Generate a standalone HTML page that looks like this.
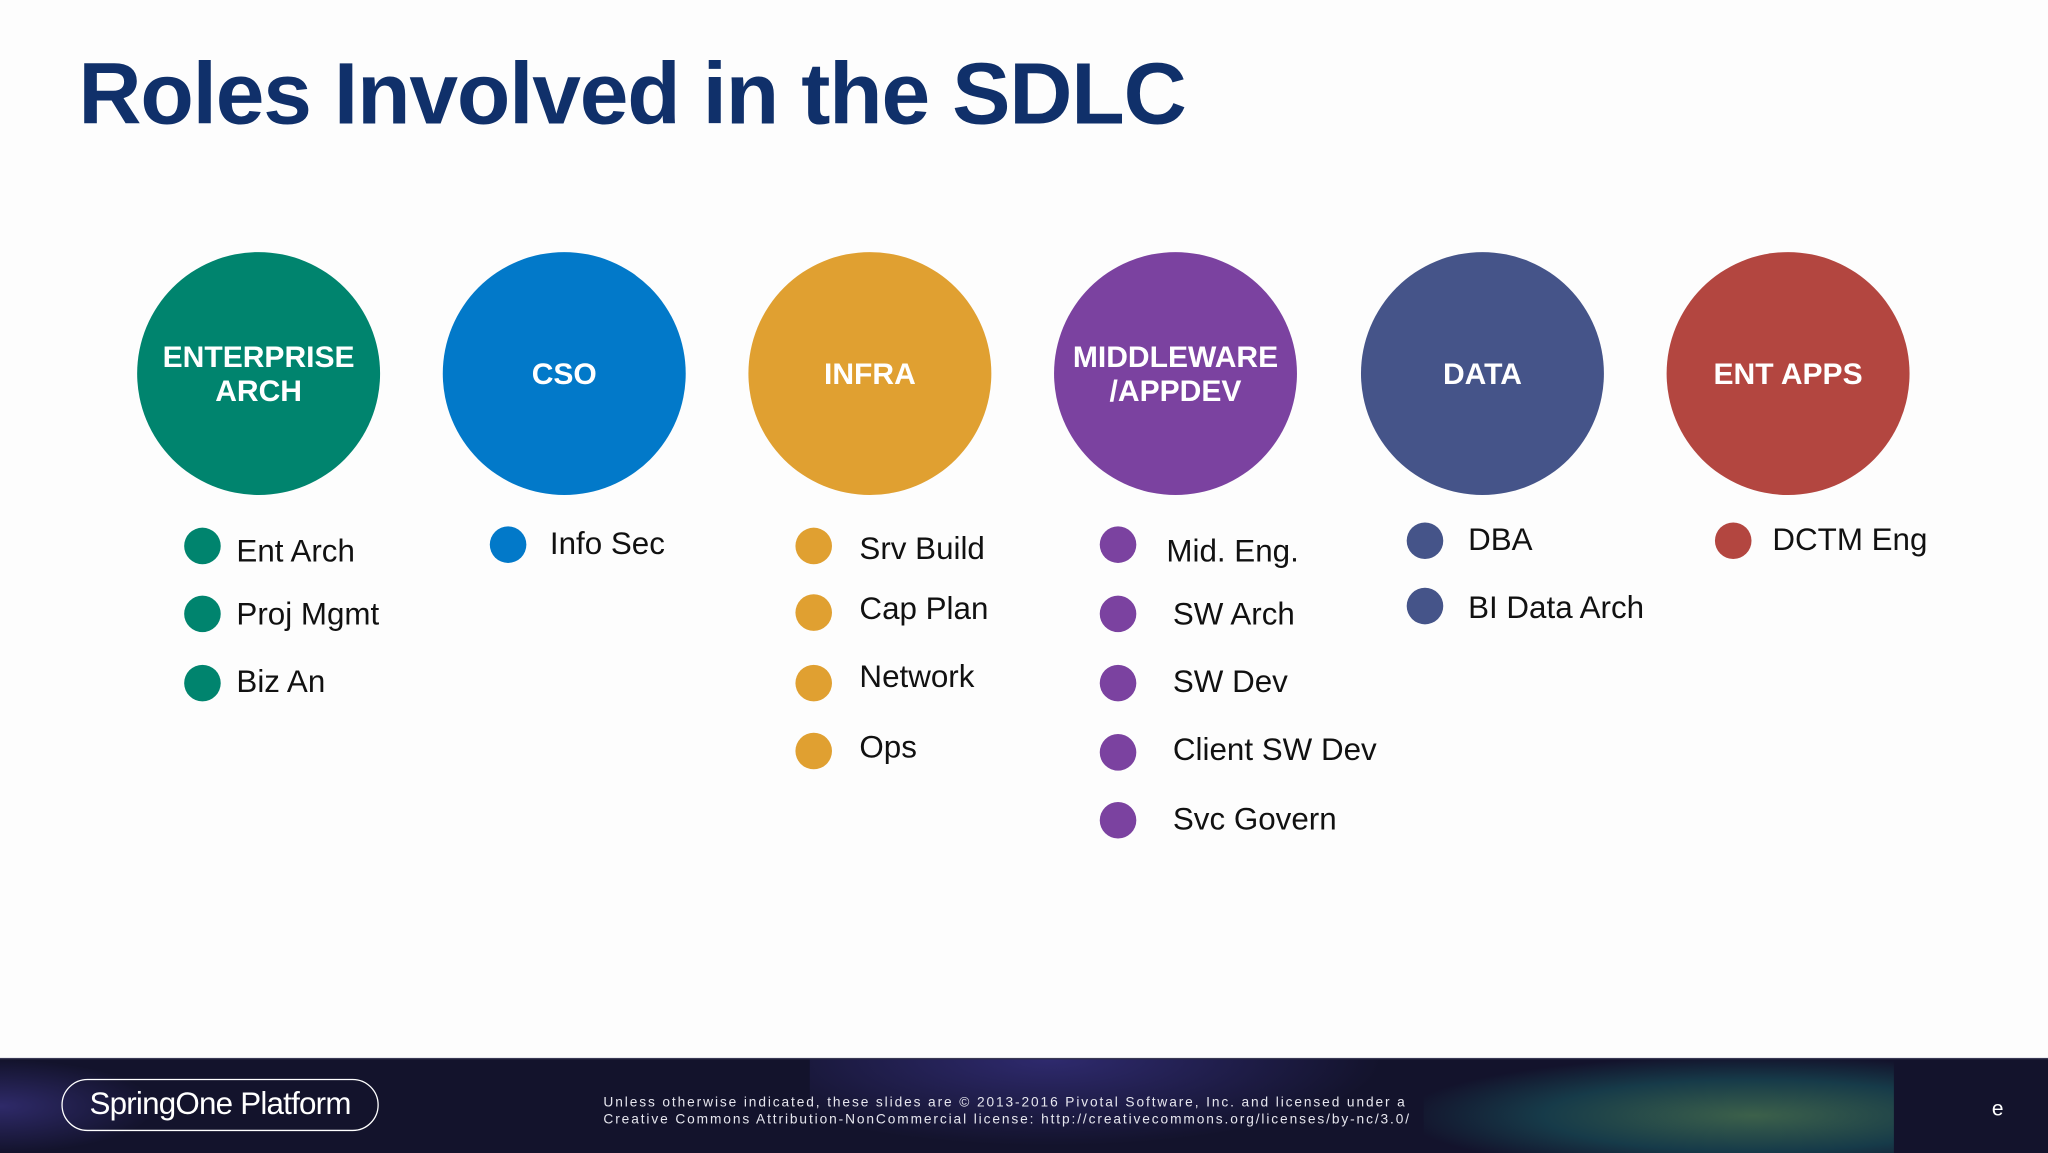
<!DOCTYPE html>
<html><head><meta charset="utf-8">
<style>
html,body{margin:0;padding:0;width:2048px;height:1152px;overflow:hidden;background:#fdfdfd;}
#stage{position:absolute;left:0;top:0;width:1568px;height:882px;transform:scale(1.306122);transform-origin:0 0;font-family:"Liberation Sans",sans-serif;}
.t{position:absolute;white-space:nowrap;line-height:1;transform:translateY(-50%);}
.big{position:absolute;width:186px;height:186px;border-radius:50%;top:193px;display:flex;align-items:center;justify-content:center;text-align:center;color:#fff;font-weight:bold;font-size:23px;line-height:26px;}
.dot{position:absolute;width:28px;height:28px;border-radius:50%;transform:translate(-50%,-50%);}
.lbl{position:absolute;white-space:nowrap;font-size:24px;color:#111;line-height:1;transform:translateY(-50%);}
#footer{position:absolute;left:0;top:810px;width:1568px;height:72px;background:#13132c;overflow:hidden;border-top:1px solid #3a3a55;}
</style></head><body>
<div id="stage">
<div class="t" style="left:60px;top:72px;font-size:67px;font-weight:bold;color:#10306a;letter-spacing:-0.9px;">Roles Involved in the SDLC</div>

<div class="big" style="left:105px;background:#00846e;">ENTERPRISE<br>ARCH</div>
<div class="big" style="left:339px;background:#0279c9;">CSO</div>
<div class="big" style="left:573px;background:#e0a031;">INFRA</div>
<div class="big" style="left:807px;background:#7b42a0;">MIDDLEWARE<br>/APPDEV</div>
<div class="big" style="left:1042px;background:#455489;">DATA</div>
<div class="big" style="left:1276px;background:#b34640;">ENT APPS</div>

<div class="dot" style="left:155px;top:418px;background:#00846e"></div>
<div class="lbl" style="left:181px;top:423px">Ent Arch</div>
<div class="dot" style="left:155px;top:470px;background:#00846e"></div>
<div class="lbl" style="left:181px;top:471px">Proj Mgmt</div>
<div class="dot" style="left:155px;top:523px;background:#00846e"></div>
<div class="lbl" style="left:181px;top:523px">Biz An</div>
<div class="dot" style="left:389px;top:417px;background:#0279c9"></div>
<div class="lbl" style="left:421px;top:417px">Info Sec</div>
<div class="dot" style="left:623px;top:418px;background:#e0a031"></div>
<div class="lbl" style="left:658px;top:421px">Srv Build</div>
<div class="dot" style="left:623px;top:469px;background:#e0a031"></div>
<div class="lbl" style="left:658px;top:467px">Cap Plan</div>
<div class="dot" style="left:623px;top:523px;background:#e0a031"></div>
<div class="lbl" style="left:658px;top:519px">Network</div>
<div class="dot" style="left:623px;top:575px;background:#e0a031"></div>
<div class="lbl" style="left:658px;top:573px">Ops</div>
<div class="dot" style="left:856px;top:417px;background:#7b42a0"></div>
<div class="lbl" style="left:893px;top:423px">Mid. Eng.</div>
<div class="dot" style="left:856px;top:470px;background:#7b42a0"></div>
<div class="lbl" style="left:898px;top:471px">SW Arch</div>
<div class="dot" style="left:856px;top:523px;background:#7b42a0"></div>
<div class="lbl" style="left:898px;top:523px">SW Dev</div>
<div class="dot" style="left:856px;top:576px;background:#7b42a0"></div>
<div class="lbl" style="left:898px;top:575px">Client SW Dev</div>
<div class="dot" style="left:856px;top:628px;background:#7b42a0"></div>
<div class="lbl" style="left:898px;top:628px">Svc Govern</div>
<div class="dot" style="left:1091px;top:414px;background:#455489"></div>
<div class="lbl" style="left:1124px;top:414px">DBA</div>
<div class="dot" style="left:1091px;top:464px;background:#455489"></div>
<div class="lbl" style="left:1124px;top:466px">BI Data Arch</div>
<div class="dot" style="left:1327px;top:414px;background:#b34640"></div>
<div class="lbl" style="left:1357px;top:414px">DCTM Eng</div>

<div id="footer">
  <div style="position:absolute;left:0;top:0;width:120px;height:72px;background:radial-gradient(ellipse at 0% 50%,rgba(80,70,180,0.45),rgba(0,0,0,0) 70%);"></div>
  <div style="position:absolute;left:620px;top:0;width:460px;height:72px;background:radial-gradient(ellipse at 40% 0%,rgba(80,70,190,0.45),rgba(0,0,0,0) 65%);"></div>
  <div style="position:absolute;left:1090px;top:0;width:360px;height:72px;background:radial-gradient(ellipse at 70% 60%,rgba(110,190,110,0.45),rgba(30,150,140,0.3) 45%,rgba(0,0,0,0) 75%);"></div>
  <div style="position:absolute;left:47px;top:15px;width:241px;height:38px;border:1.5px solid #fff;border-radius:20px;color:#fff;font-size:24px;line-height:38px;text-align:center;letter-spacing:-0.6px;">SpringOne Platform</div>
  <div style="position:absolute;left:462px;top:27px;color:#e6e6ee;font-size:10.5px;line-height:13px;letter-spacing:1.45px;white-space:nowrap;">Unless otherwise indicated, these slides are © 2013-2016 Pivotal Software, Inc. and licensed under a<br>Creative Commons Attribution-NonCommercial license: http://creativecommons.org/licenses/by-nc/3.0/</div>
  <div style="position:absolute;left:1525px;top:30px;color:#fff;font-size:16px;">e</div>
</div>
</div>
</body></html>
